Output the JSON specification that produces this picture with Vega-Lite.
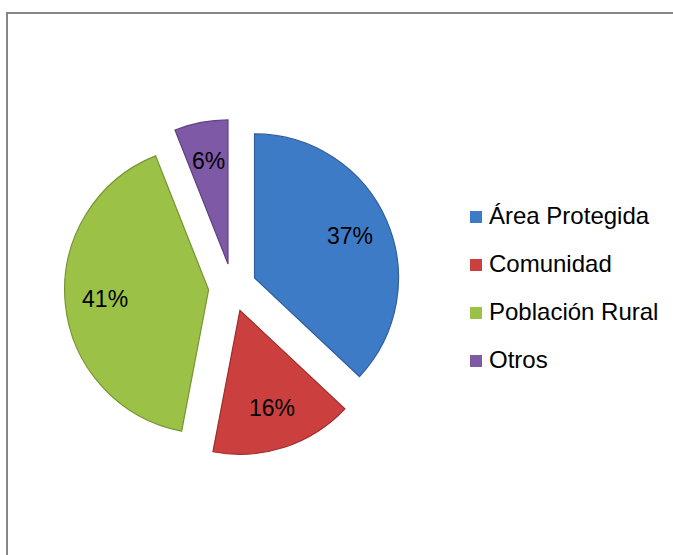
{
  "$schema": "https://vega.github.io/schema/vega-lite/v6.json",
  "autosize": "none",
  "padding": {"left": 7, "top": 13, "right": 0, "bottom": 0},
  "width": 800,
  "height": 700,
  "background": "white",
  "view": {"stroke": "#868686", "strokeWidth": 2, "fill": "white"},
  "config": {
    "font": "Liberation Sans"
  },
  "data": {
    "values": [
      {"cat": "Área Protegida", "pct": 37, "idx": 1},
      {"cat": "Comunidad", "pct": 16, "idx": 2},
      {"cat": "Población Rural", "pct": 41, "idx": 3},
      {"cat": "Otros", "pct": 6, "idx": 4}
    ]
  },
  "transform": [{"calculate": "datum.pct + '%'", "as": "label"}],
  "encoding": {
    "theta": {"field": "pct", "type": "quantitative", "stack": true},
    "order": {"field": "idx", "type": "quantitative", "sort": "ascending"}
  },
  "layer": [
    {
      "mark": {
        "type": "arc",
        "outerRadius": 144,
        "strokeWidth": 1.2,
        "x": {"expr": "225.5 + 24*sin(PI*(datum.pct_start + datum.pct_end)/100)"},
        "y": {"expr": "274.5 - 24*cos(PI*(datum.pct_start + datum.pct_end)/100)"}
      },
      "encoding": {
        "color": {
          "field": "cat",
          "type": "nominal",
          "sort": ["Área Protegida", "Comunidad", "Población Rural", "Otros"],
          "scale": {
            "domain": ["Área Protegida", "Comunidad", "Población Rural", "Otros"],
            "range": ["#3E7BC7", "#CB403E", "#9BC146", "#7E59A6"]
          },
          "legend": {
            "title": null,
            "orient": "none",
            "legendX": 457,
            "legendY": 192,
            "symbolType": "square",
            "symbolSize": 144,
            "symbolStrokeWidth": 0,
            "labelFontSize": 24,
            "labelFont": "Liberation Sans",
            "labelColor": "#000000",
            "labelOffset": 1,
            "rowPadding": 24,
            "padding": 0,
            "labelLimit": 300
          }
        },
        "stroke": {
          "field": "cat",
          "type": "nominal",
          "scale": {
            "domain": ["Área Protegida", "Comunidad", "Población Rural", "Otros"],
            "range": ["#2F5F9C", "#9E2E2C", "#779434", "#5F4180"]
          },
          "legend": null
        }
      }
    },
    {
      "mark": {
        "type": "text",
        "radius": 128,
        "x": 225.5,
        "y": 274.5,
        "fontSize": 23,
        "font": "Liberation Sans",
        "color": "#000000"
      },
      "encoding": {
        "text": {"field": "label", "type": "nominal"},
        "detail": {"field": "cat"}
      }
    }
  ]
}
